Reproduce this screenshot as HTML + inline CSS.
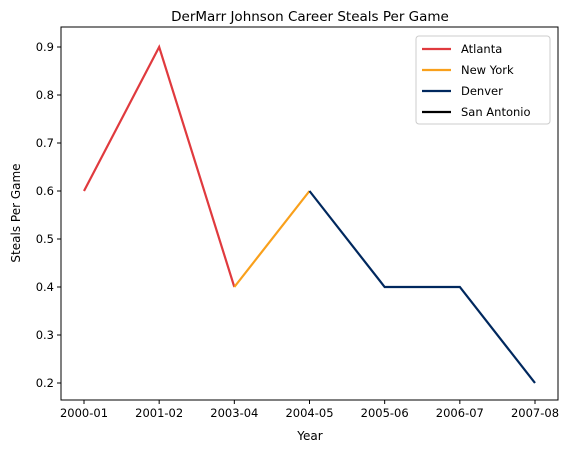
<!DOCTYPE html>
<html><head><meta charset="utf-8"><style>
body{margin:0;background:#fff}
svg text{font-family:"DejaVu Sans","Liberation Sans",sans-serif;fill:#000}
</style></head><body>
<svg id="chart" width="573" height="453" viewBox="0 0 573 453">
<rect width="573" height="453" fill="#fff"/>
<text x="310" y="21" font-size="13.5" text-anchor="middle">DerMarr Johnson Career Steals Per Game</text>
<g id="axes"></g>
<text x="310" y="440" font-size="12" text-anchor="middle">Year</text>
<text transform="translate(20,213) rotate(-90)" font-size="12" text-anchor="middle">Steals Per Game</text>
<g id="legend"></g>
</svg>
<script>
const categories=["2000-01","2001-02","2003-04","2004-05","2005-06","2006-07","2007-08"];
const yTicks=[0.2,0.3,0.4,0.5,0.6,0.7,0.8,0.9];
const teams=["Atlanta","New York","Denver","San Antonio"];
const colors=["#E03A3E","#F9A01B","#00285E","#000000"];
const atlanta=[[0,0.6],[1,0.9],[2,0.4]];
const newYork=[[2,0.4],[3,0.6]];
const denver=[[3,0.6],[4,0.4],[5,0.4],[6,0.2]];
const sanAntonio=[[6,0.2]];
const series=[atlanta,newYork,denver,sanAntonio];
const L=61,R=558,T=27,B=400;
const x=i=>84+i*(535-84)/6;
const y=v=>383-(v-0.2)*(383-47)/0.7;
const NS="http://www.w3.org/2000/svg";
const ax=document.getElementById('axes');
function mk(t,a,p){const e=document.createElementNS(NS,t);for(const k in a)e.setAttribute(k,a[k]);(p||ax).appendChild(e);return e;}
series.forEach((s,k)=>{
 const p=mk('polyline',{points:s.map(d=>x(d[0])+','+y(d[1])).join(' '),fill:'none',stroke:colors[k],'stroke-width':2.2});
 
 
});
const fr=mk('rect',{x:L,y:T,width:R-L,height:B-T,fill:'none',stroke:'#000','stroke-width':1});


categories.forEach((c,i)=>{
 mk('line',{x1:x(i),x2:x(i),y1:B,y2:B+4,stroke:'#000'});
 const t=mk('text',{x:x(i),y:B+17,'font-size':11.5,'text-anchor':'middle'});t.textContent=c;
 
 
});
yTicks.forEach(v=>{
 mk('line',{x1:L-4,x2:L,y1:y(v),y2:y(v),stroke:'#000'});
 const t=mk('text',{x:L-7,y:y(v)+4,'font-size':11.5,'text-anchor':'end'});t.textContent=v.toFixed(1);
 
 
});
const lg=document.getElementById('legend');
mk('rect',{x:416,y:36,width:134,height:88,rx:3,fill:'#fff',stroke:'#ccc'},lg);
teams.forEach((n,k)=>{
 const yy=49+k*21;
 const ln=mk('line',{x1:422,x2:451,y1:yy,y2:yy,stroke:colors[k],'stroke-width':2.2},lg);
 
 
 const t=mk('text',{x:461,y:yy+4,'font-size':11.5},lg);t.textContent=n;
 
 
});
</script>
</body></html>
